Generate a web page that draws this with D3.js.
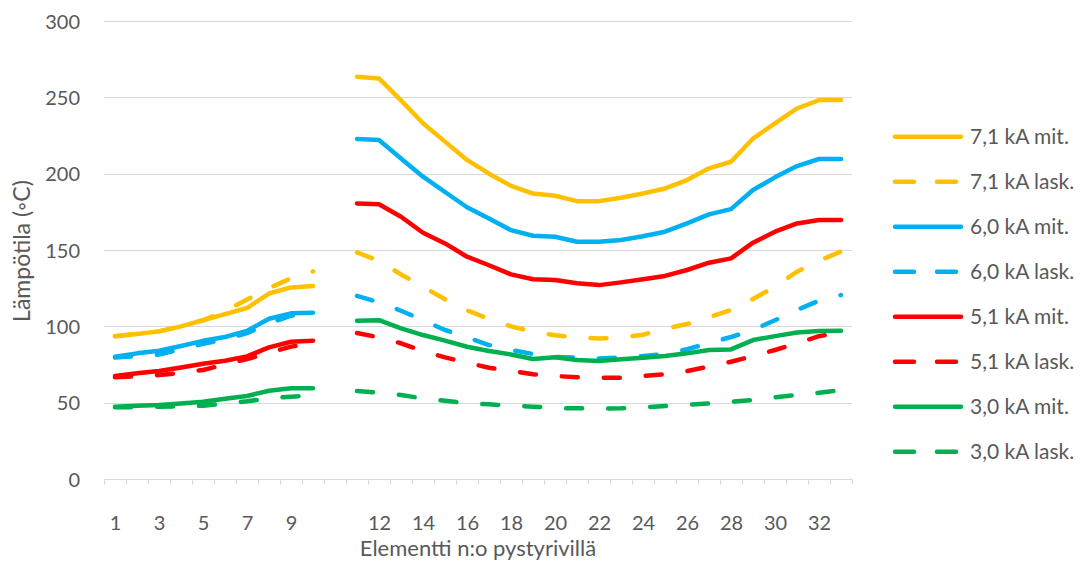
<!DOCTYPE html>
<html>
<head>
<meta charset="utf-8">
<script src="https://cdn.jsdelivr.net/npm/d3@7"></script>
<style>
  html, body { margin: 0; padding: 0; background: #fff; }
  svg { display: block; }
  text { font-family: Lato, "Open Sans", sans-serif; fill: #595959; }
</style>
</head>
<body>
<svg id="chart" width="1080" height="562"></svg>
<script>
// Category labels (index 10 is an empty spacer category)
const categories = ["1","2","3","4","5","6","7","8","9","10","","11","12","13","14","15","16","17","18","19","20","21","22","23","24","25","26","27","28","29","30","31","32","33"];
const yTicks = [0, 50, 100, 150, 200, 250, 300];

// Series values (null = gap at spacer category)
const y71mit = [93.5,95,96.7,100,104,108,112,121.5,125.5,126.4, null,
  263.5,262.4,248,233,221,209,200,192,187,185.5,182,182,184.2,187,190.3,195.8,203.5,207.8,223,233,242.7,248.2,248.2];
const y71lask = [93.5,95,96.7,100,104,110,117.5,125,131.5,136, null,
  148.4,143,134,126,117.7,110.5,104.8,100,96.5,94.1,92.8,92,92.8,94.5,98.4,101.5,105.9,110.7,117.9,126,135.8,143,149];
const y60mit = [80.1,82.3,84,87.1,90.5,93,97,105,108.5,108.9, null,
  222.7,222,210,198,188,178,170.7,163,159.3,158.7,155.4,155.4,156.5,159,162,167.4,173.3,176.8,189.3,197.6,205,209.6,209.6];
const y60lask = [79.5,80.5,81.5,85,88.5,91.5,95.5,102,107,108.5, null,
  120,115.7,110.2,104,97.6,92.8,87.7,84.5,81.9,80,79.5,79,79.5,80.5,82,85,89,93,97.6,104,110.7,116.8,120.5];
const y51mit = [67.5,69.2,70.7,73,75.5,77.5,80.3,86.2,89.9,90.6, null,
  180.5,180,171.8,161.3,154.3,145.6,140,134,130.8,130.3,128.2,127,128.8,130.8,133,136.9,141.7,144.5,154.8,162,167.4,169.6,169.7];
const y51lask = [66.6,67.3,68.1,69.5,71.4,75,78.6,82.7,86.7,88.9, null,
  95.6,92.8,88.9,83.8,79.7,76.2,72.9,70.9,68.6,67.5,66.6,66.4,66.4,67.5,68.6,70.7,73.6,76.8,80.5,84.5,88.9,93.6,96];
const y30mit = [47.4,48,48.5,49.5,50.6,52.5,54.4,57.8,59.4,59.4, null,
  103.7,104,98.7,94.3,90.6,86.6,83.8,81.6,78.6,79.7,77.9,77.3,78.4,79.4,80.5,82.3,84.5,84.9,91,93.6,96,96.9,97.1];
const y30lask = [47,47.1,47.3,47.6,48,49.5,50.9,52.8,53.9,54.8, null,
  57.6,56.5,55,52.8,51.3,49.5,48.9,48,47.4,46.5,46.3,46.2,46.3,46.9,47.8,48.5,49.5,50.6,51.7,53.5,55,56.5,58.3];

const seriesNames = ["7,1 kA mit.","7,1 kA lask.","6,0 kA mit.","6,0 kA lask.","5,1 kA mit.","5,1 kA lask.","3,0 kA mit.","3,0 kA lask."];
const seriesValues = [y71mit, y71lask, y60mit, y60lask, y51mit, y51lask, y30mit, y30lask];
const seriesColors = ["#FFC000","#FFC000","#00B0F0","#00B0F0","#FF0000","#FF0000","#00B050","#00B050"];
const seriesDashed = [false,true,false,true,false,true,false,true];

const svg = d3.select("#chart");
const L = 104, R = 852, T = 21, B = 479;
const idx = d3.range(categories.length);
const x = d3.scalePoint().domain(idx).range([L, R]).padding(0.5);
const xb = d3.scaleLinear().domain([0, categories.length]).range([L, R]);
const y = d3.scaleLinear().domain([0, 300]).range([B, T]);

// gridlines
svg.append("g").selectAll("line").data(yTicks.filter(d => d > 0)).join("line")
  .attr("x1", L).attr("x2", R)
  .attr("y1", d => Math.round(y(d)) + 0.5).attr("y2", d => Math.round(y(d)) + 0.5)
  .attr("stroke", "#d9d9d9").attr("stroke-width", 1);

// y labels
const ya = svg.append("g").attr("transform", `translate(${80},0)`)
  .call(d3.axisLeft(y).tickValues(yTicks).tickSize(0).tickPadding(0));
ya.select(".domain").remove();
ya.selectAll("text").style("font-size", "20px").attr("fill", "#595959").attr("dy", "0.36em");

// x axis line + boundary ticks
const xt = svg.append("g").attr("transform", `translate(0,${B + 0.5})`)
  .call(d3.axisBottom(xb).tickValues(d3.range(categories.length + 1)).tickSize(5).tickFormat(""));
xt.select(".domain").attr("stroke", "#d9d9d9").attr("d", `M${L},0H${R}`);
xt.selectAll(".tick line").attr("stroke", "#d9d9d9");

// x labels
const xl = svg.append("g").attr("transform", `translate(0,${B})`)
  .call(d3.axisBottom(x).tickValues(idx.filter(i => i % 2 === 0)).tickSize(0).tickPadding(0)
    .tickFormat(i => categories[i]));
xl.select(".domain").remove();
xl.selectAll("text").style("font-size", "20px").attr("fill", "#595959").attr("y", 51).attr("dy", 0);

// lines
const line = d3.line().defined(d => d[1] !== null).x(d => x(d[0])).y(d => y(d[1]));
seriesValues.forEach((vals, k) => {
  svg.append("path")
    .attr("d", line(vals.map((v, i) => [i, v])))
    .attr("fill", "none")
    .attr("stroke", seriesColors[k])
    .attr("stroke-width", 4.5)
    .attr("stroke-linejoin", "round")
    .attr("stroke-linecap", "round")
    .attr("stroke-dasharray", seriesDashed[k] ? "16,26" : null);
});

// axis titles
svg.append("text").attr("transform", `translate(22,251) rotate(-90)`)
  .attr("text-anchor", "middle").attr("dy", "0.35em").style("font-size", "23px")
  .text("Lämpötila (◦C)");
svg.append("text").attr("x", 478).attr("y", 548).attr("text-anchor", "middle")
  .attr("dy", "0.35em").style("font-size", "22px").text("Elementti n:o pystyrivillä");

// legend
const lg = svg.append("g");
seriesNames.forEach((name, k) => {
  const yy = 136.7 + 45 * k;
  lg.append("line").attr("x1", 895).attr("x2", 961).attr("y1", yy).attr("y2", yy)
    .attr("stroke", seriesColors[k]).attr("stroke-width", 4.5).attr("stroke-linecap", "round")
    .attr("stroke-dasharray", seriesDashed[k] ? "19,23" : null);
  lg.append("text").attr("x", 970).attr("y", yy).attr("dy", "0.35em")
    .style("font-size", "21px").text(name);
});
</script>
</body>
</html>
